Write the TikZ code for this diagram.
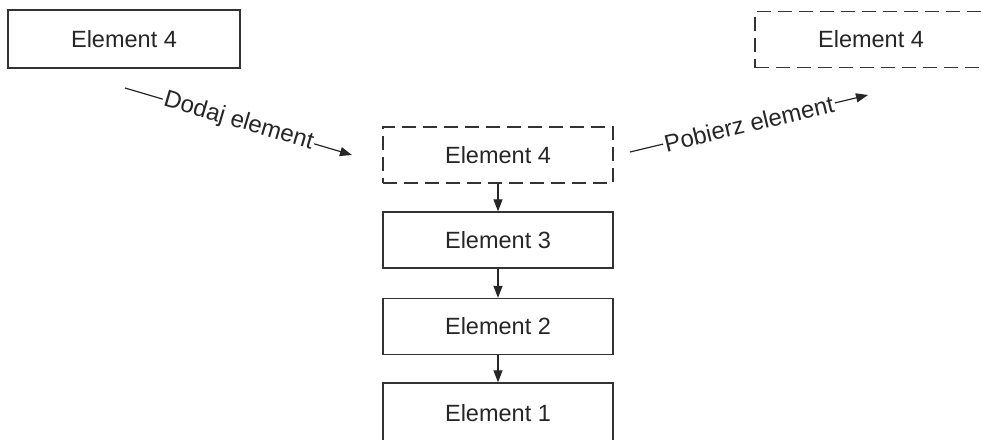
\documentclass[tikz,border=0pt]{standalone}
\usepackage{fontspec}
\setmainfont{Liberation Sans}
\usetikzlibrary{arrows.meta}
\begin{document}
\begin{tikzpicture}[x=1pt,y=-1pt,
  box/.style={draw=black!80, line width=1.3pt, minimum width=230pt, minimum height=56pt,
    inner sep=0pt, font=\fontsize{23.5}{28}\selectfont, text=black!85},
  ghost/.style={box, dash pattern=on 14pt off 7pt},
  link/.style={draw=black!85, line width=1.2pt, -{Triangle[length=12pt,width=9pt]}},
  lbl/.style={sloped, fill=white, inner sep=1.5pt, font=\fontsize{24}{28}\selectfont, text=black!85}]
\useasboundingbox (0,0) rectangle (981,439);
\clip (0,0) rectangle (981,439);

% element waiting to be pushed, and the one already popped
\node[box, minimum width=232pt, minimum height=58pt] (in4) at (124,39) {Element 4};
\node[ghost, minimum width=232pt] (out4) at (871,39.5) {Element 4};

% the stack itself; the bottom element runs past the lower edge
\node[ghost] (s4) at (498,155) {Element 4};
\node[box]   (s3) at (498,240) {Element 3};
\node[box]   (s2) at (498,326.5) {Element 2};
\node[box, minimum height=60pt] (s1) at (498,413) {Element 1};

\draw[link] (s4) -- (s3);
\draw[link] (s3) -- (s2);
\draw[link] (s2) -- (s1);

% push and pop operations
\coordinate (pushA) at (125,88);
\coordinate (pushB) at (352,155);
\coordinate (popA)  at (630,152);
\coordinate (popB)  at (868,95);

\draw[link] (pushA) -- node[lbl] (pushlbl) {Dodaj element} (pushB);
\draw[link] (popA) -- node[lbl] (poplbl) {Pobierz element} (popB);
\end{tikzpicture}
\end{document}
